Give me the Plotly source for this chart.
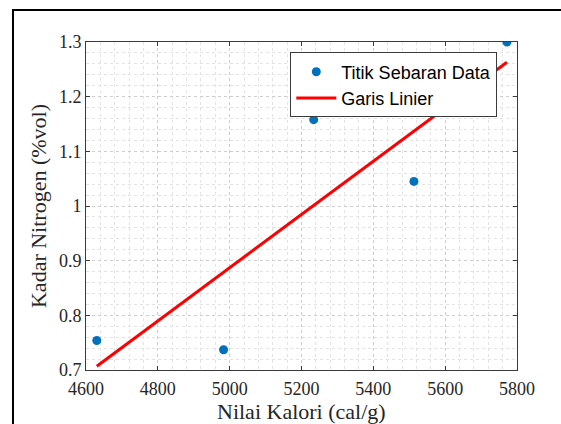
import plotly.graph_objects as go

# Scatter observations: calorific value vs nitrogen content
kalori = [4630, 4983, 5234, 5513, 5772]
nitrogen = [0.754, 0.737, 1.158, 1.045, 1.300]

# Linear fit line end points
fit_x = [4630, 5772]
fit_y = [0.707, 1.263]

x_ticks = [4600, 4800, 5000, 5200, 5400, 5600, 5800]
y_ticks = [0.7, 0.8, 0.9, 1.0, 1.1, 1.2, 1.3]
y_tick_text = ["0.7", "0.8", "0.9", "1", "1.1", "1.2", "1.3"]

serif = "Liberation Serif, Times New Roman, serif"
sans = "Liberation Sans, Arial, sans-serif"

fig = go.Figure()
fig.add_trace(go.Scatter(
    x=kalori, y=nitrogen, mode="markers", name="Titik Sebaran Data",
    marker=dict(color="#0072BD", size=9),
))
fig.add_trace(go.Scatter(
    x=fit_x, y=fit_y, mode="lines", name="Garis Linier",
    line=dict(color="#FF0000", width=3),
))

axis_common = dict(
    showline=True, linecolor="#3a3a3a", linewidth=1, mirror="ticks",
    ticks="inside", ticklen=4, tickcolor="#3a3a3a",
    showgrid=True, gridcolor="#cdcdcd", griddash="dot", gridwidth=1,
    zeroline=False, automargin=False,
    tickfont=dict(family=serif, size=18, color="#262626"),
)

fig.update_xaxes(
    range=[4600, 5800], tickvals=x_ticks, ticklabelstandoff=2,
    minor=dict(dtick=40, tick0=4600, showgrid=True, gridcolor="#e3e3e3",
               griddash="dot", ticks=""),
    **axis_common,
)
fig.update_yaxes(
    range=[0.7, 1.3], tickvals=y_ticks, ticktext=y_tick_text,
    minor=dict(dtick=0.02, tick0=0.7, showgrid=True, gridcolor="#e3e3e3",
               griddash="dot", ticks=""),
    title=dict(text="Kadar Nitrogen (%vol)", font=dict(family=serif, size=22, color="#262626"),
               standoff=6),
    **axis_common,
)

# X-axis title placed below the tick labels
fig.add_annotation(
    text="Nilai Kalori (cal/g)", xref="paper", yref="paper",
    x=0.5, y=-0.128, xanchor="center", yanchor="middle", showarrow=False,
    font=dict(family=serif, size=22, color="#262626"),
)

# Outer figure frame
fig.add_shape(type="rect", xref="paper", yref="paper",
              x0=-0.1694, x1=1.2, y0=-0.25, y1=1.0976,
              line=dict(color="black", width=2), fillcolor="rgba(0,0,0,0)", layer="above")

fig.update_layout(
    width=561, height=424,
    margin=dict(l=86, r=44, t=42, b=54),
    paper_bgcolor="white", plot_bgcolor="white",
    showlegend=True,
    legend=dict(
        x=0.474, y=0.968, xanchor="left", yanchor="top",
        bgcolor="white", bordercolor="#3a3a3a", borderwidth=1,
        font=dict(family=sans, size=18, color="#000000"),
        itemwidth=40, tracegroupgap=0,
    ),
)

fig.write_html("out.html")
